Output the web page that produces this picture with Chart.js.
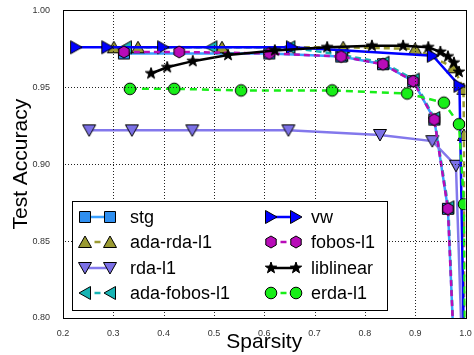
<!DOCTYPE html>
<html>
<head>
<script src="https://cdn.jsdelivr.net/npm/chart.js@4"></script>
<style>
  body { margin: 0; background: #fff; }
</style>
</head>
<body>
<canvas id="chart" width="474" height="355"></canvas>
<script>
// series values
var seriesNames = ['stg', 'ada-rda-l1', 'rda-l1', 'ada-fobos-l1', 'vw', 'fobos-l1', 'liblinear', 'erda-l1'];

var stgX = [0.321, 0.610, 0.753, 0.836, 0.896, 0.938, 0.965, 0.977];
var stgY = [0.972, 0.972, 0.970, 0.965, 0.954, 0.929, 0.871, 0.78];

var adaRdaX = [0.301, 0.349, 0.516, 0.757, 0.900, 0.976, 0.996, 0.997, 0.998];
var adaRdaY = [0.976, 0.976, 0.976, 0.976, 0.975, 0.963, 0.949, 0.919, 0.78];

var rdaX = [0.252, 0.337, 0.457, 0.648, 0.830, 0.934, 0.981, 0.993];
var rdaY = [0.922, 0.922, 0.922, 0.922, 0.919, 0.915, 0.899, 0.78];

var adaFobosX = [0.325, 0.495, 0.650, 0.755, 0.837, 0.897, 0.938, 0.966, 0.977];
var adaFobosY = [0.976, 0.976, 0.976, 0.971, 0.966, 0.955, 0.930, 0.872, 0.78];

var vwX = [0.226, 0.288, 0.399, 0.655, 0.935, 0.988, 0.997];
var vwY = [0.976, 0.976, 0.976, 0.976, 0.9705, 0.951, 0.78];

var fobosX = [0.321, 0.431, 0.610, 0.753, 0.836, 0.896, 0.938, 0.965, 0.977];
var fobosY = [0.973, 0.973, 0.972, 0.970, 0.965, 0.954, 0.929, 0.871, 0.78];

var liblinearX = [0.375, 0.407, 0.458, 0.528, 0.621, 0.725, 0.814, 0.876, 0.926, 0.950, 0.965, 0.977, 0.987];
var liblinearY = [0.959, 0.963, 0.967, 0.971, 0.974, 0.976, 0.977, 0.977, 0.976, 0.973, 0.970, 0.966, 0.960];

var erdaX = [0.333, 0.421, 0.554, 0.735, 0.884, 0.957, 0.987, 0.997, 0.999];
var erdaY = [0.949, 0.949, 0.948, 0.948, 0.946, 0.940, 0.926, 0.874, 0.78];

var xTickLabels = ['0.2', '0.3', '0.4', '0.5', '0.6', '0.7', '0.8', '0.9', '1.0'];
var yTickLabels = ['0.80', '0.85', '0.90', '0.95', '1.00'];

// marker pictures, matlab style with a black edge
function makeMarker(shape, fill) {
    var s = 16;
    var c = document.createElement('canvas');
    c.width = s; c.height = s;
    var g = c.getContext('2d');
    g.translate(s / 2, s / 2);
    g.beginPath();
    if (shape == 'square') {
        g.rect(-5.5, -5.5, 11, 11);
    } else if (shape == 'circle') {
        g.arc(0, 0, 5.8, 0, Math.PI * 2);
    } else if (shape == 'hexagon') {
        for (var i = 0; i < 6; i++) {
            var a = (-90 + i * 60) * Math.PI / 180;
            g.lineTo(Math.cos(a) * 6, Math.sin(a) * 6);
        }
        g.closePath();
    } else if (shape == 'up') {
        g.moveTo(0, -6); g.lineTo(6.5, 5.5); g.lineTo(-6.5, 5.5); g.closePath();
    } else if (shape == 'down') {
        g.moveTo(0, 6); g.lineTo(6.5, -5.5); g.lineTo(-6.5, -5.5); g.closePath();
    } else if (shape == 'left') {
        g.moveTo(-6, 0); g.lineTo(5.5, -6.5); g.lineTo(5.5, 6.5); g.closePath();
    } else if (shape == 'right') {
        g.moveTo(6, 0); g.lineTo(-5.5, -6.5); g.lineTo(-5.5, 6.5); g.closePath();
    } else if (shape == 'star') {
        for (var j = 0; j < 10; j++) {
            var r = j % 2 == 0 ? 6 : 2.4;
            var b = (-90 + j * 36) * Math.PI / 180;
            g.lineTo(Math.cos(b) * r, Math.sin(b) * r);
        }
        g.closePath();
    }
    g.fillStyle = fill;
    g.fill();
    g.strokeStyle = '#000';
    g.lineWidth = 1;
    g.stroke();
    return c;
}

var styles = [
    { color: '#3aa0ff', fill: '#2f8ff0', shape: 'square', dash: [] },
    { color: '#9a9a32', fill: '#9a9a32', shape: 'up', dash: [6, 4] },
    { color: '#8378ec', fill: '#7b70e6', shape: 'down', dash: [] },
    { color: '#18b4b4', fill: '#18b4b4', shape: 'left', dash: [6, 4] },
    { color: '#0000ff', fill: '#0000ff', shape: 'right', dash: [] },
    { color: '#b80cb8', fill: '#b80cb8', shape: 'hexagon', dash: [6, 4] },
    { color: '#000000', fill: '#000000', shape: 'star', dash: [] },
    { color: '#18ee18', fill: '#18ee18', shape: 'circle', dash: [7, 5] }
];

var allX = [stgX, adaRdaX, rdaX, adaFobosX, vwX, fobosX, liblinearX, erdaX];
var allY = [stgY, adaRdaY, rdaY, adaFobosY, vwY, fobosY, liblinearY, erdaY];

var datasets = seriesNames.map(function (name, i) {
    var st = styles[i];
    st.img = makeMarker(st.shape, st.fill);
    return {
        label: name,
        data: allX[i].map(function (x, k) { return { x: x, y: allY[i][k] }; }),
        borderColor: st.color,
        borderWidth: 2.5,
        borderDash: st.dash,
        pointStyle: st.img,
        pointRadius: 6,
        tension: 0,
        order: seriesNames.length - i
    };
});

// dotted grid (square dots), box round the plot and the legend inside it
var boxAndLegend = {
    id: 'boxAndLegend',
    afterDatasetsDraw: function (chart) {
        var ctx = chart.ctx, a = chart.chartArea;
        var xs = chart.scales.x, ys = chart.scales.y;
        var t0 = Math.round(a.top), b0 = Math.round(a.bottom);
        var l0 = Math.round(a.left), r0 = Math.round(a.right);
        ctx.save();

        ctx.fillStyle = '#222';
        for (var gi = 0; gi < xTickLabels.length; gi++) {
            var px = Math.round(xs.getPixelForValue(parseFloat(xTickLabels[gi])));
            for (var yy = t0 + 2; yy < b0; yy += 3) ctx.fillRect(px, yy, 1, 1);
        }
        for (var gk = 0; gk < yTickLabels.length; gk++) {
            var py = Math.round(ys.getPixelForValue(parseFloat(yTickLabels[gk])));
            for (var xx = l0 + 2; xx < r0; xx += 3) ctx.fillRect(xx, py, 1, 1);
        }

        ctx.strokeStyle = '#000';
        ctx.lineWidth = 1;
        ctx.setLineDash([]);
        ctx.strokeRect(l0 + 0.5, t0 + 0.5, r0 - l0, b0 - t0);

        var L = l0 + 9, T = b0 - 117;
        ctx.fillStyle = '#fff';
        ctx.fillRect(L, T, 315, 109);
        ctx.strokeRect(L + 0.5, T + 0.5, 315, 109);

        ctx.font = '18px "Liberation Sans", Arial, sans-serif';
        ctx.textBaseline = 'middle';
        ctx.textAlign = 'left';
        for (var i = 0; i < seriesNames.length; i++) {
            var st = styles[i];
            var col = Math.floor(i / 4), row = i % 4;
            var m1 = L + (col == 0 ? 13 : 199);
            var m2 = m1 + 25;
            var y = Math.round(T + 16 + row * 25.3);
            ctx.strokeStyle = st.color;
            ctx.lineWidth = 2.5;
            ctx.beginPath();
            if (st.dash.length) {
                var mid = (m1 + m2) / 2;
                ctx.moveTo(mid - 3, y); ctx.lineTo(mid + 3, y);
            } else {
                ctx.moveTo(m1, y); ctx.lineTo(m2, y);
            }
            ctx.stroke();
            ctx.drawImage(st.img, m1 - 8, y - 8);
            ctx.drawImage(st.img, m2 - 8, y - 8);
            ctx.fillStyle = '#000';
            ctx.fillText(seriesNames[i], L + (col == 0 ? 58 : 239), y + 1);
        }
        ctx.restore();
    }
};

var tickFont = { family: '"Liberation Sans", Arial, sans-serif', size: 9 };
var titleFont = { family: '"Liberation Sans", Arial, sans-serif', size: 21 };

new Chart(document.getElementById('chart'), {
    type: 'line',
    data: { datasets: datasets },
    plugins: [boxAndLegend],
    options: {
        responsive: false,
        animation: false,
        layout: { padding: { left: 0, right: 8, top: 6, bottom: 0 } },
        plugins: { legend: { display: false }, tooltip: { enabled: false } },
        scales: {
            x: {
                type: 'linear',
                min: 0.2, max: 1.0,
                afterFit: function (s) { s.height = 37; },
                ticks: {
                    stepSize: 0.1, padding: 2, color: '#333', font: tickFont,
                    callback: function (v, i) { return xTickLabels[i]; }
                },
                grid: { display: false },
                border: { display: false },
                title: { display: true, text: 'Sparsity', color: '#000', font: titleFont, padding: 0 }
            },
            y: {
                type: 'linear',
                min: 0.8, max: 1.0,
                afterFit: function (s) { s.width = 63; },
                ticks: {
                    stepSize: 0.05, padding: 5, color: '#333', font: tickFont,
                    callback: function (v, i) { return yTickLabels[i]; }
                },
                grid: { display: false },
                border: { display: false },
                title: { display: true, text: 'Test Accuracy', color: '#000', font: titleFont, padding: { top: 9, bottom: 0 } }
            }
        }
    }
});
</script>
</body>
</html>
